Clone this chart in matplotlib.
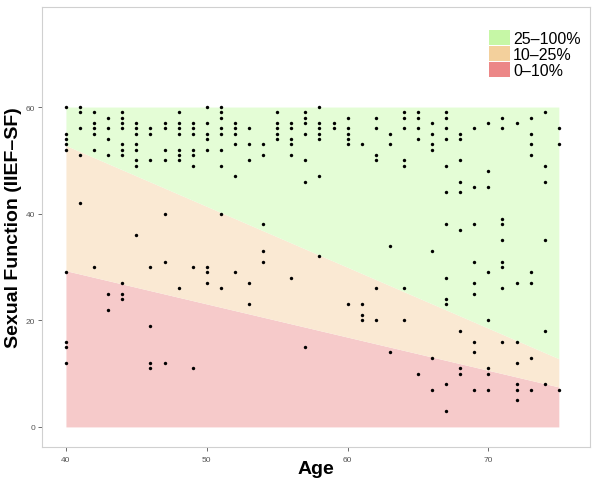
import matplotlib.pyplot as plt
from matplotlib.patches import Patch

plt.rcParams['font.family'] = ['Liberation Sans', 'DejaVu Sans']

# IIEF-SF scores, grouped by age
ages = list(range(40, 76))
scores = [
    [60, 55, 54, 53, 52, 29, 16, 15, 12],      # 40
    [60, 59, 56, 51, 42],                      # 41
    [59, 57, 56, 55, 52, 30],                  # 42
    [58, 56, 54, 51, 25, 22],                  # 43
    [59, 58, 57, 56, 53, 52, 51, 27, 25, 24],  # 44
    [57, 56, 55, 53, 52, 50, 49, 36],          # 45
    [56, 55, 50, 30, 19, 12, 11],              # 46
    [57, 56, 52, 50, 40, 31, 12],              # 47
    [59, 57, 56, 55, 52, 51, 50, 26],          # 48
    [57, 56, 55, 52, 51, 49, 30, 11],          # 49
    [60, 57, 55, 54, 52, 30, 29, 27],          # 50
    [60, 59, 58, 56, 55, 52, 49, 40, 26],      # 51
    [57, 56, 55, 53, 47, 29],                  # 52
    [56, 53, 50, 27, 23],                      # 53
    [53, 51, 38, 33, 31],                      # 54
    [59, 57, 56, 55, 54],                      # 55
    [57, 56, 54, 53, 51, 28],                  # 56
    [59, 58, 57, 55, 50, 46, 15],              # 57
    [60, 57, 56, 55, 54, 47, 32],              # 58
    [57, 56],                                  # 59
    [58, 56, 55, 54, 53, 23],                  # 60
    [53, 23, 21, 20],                          # 61
    [58, 56, 51, 50, 26, 20],                  # 62
    [55, 53, 34, 14],                          # 63
    [59, 58, 56, 50, 49, 26, 20],              # 64
    [59, 58, 56, 54, 10],                      # 65
    [57, 55, 53, 52, 33, 13, 7],               # 66
    [59, 58, 56, 54, 49, 44, 38, 28, 24, 23, 8, 3],  # 67
    [55, 54, 50, 46, 44, 37, 18, 11, 10],      # 68
    [56, 45, 38, 31, 27, 25, 16, 14, 7],       # 69
    [57, 48, 45, 29, 20, 11, 10, 7],           # 70
    [58, 56, 39, 38, 35, 31, 30, 26, 16],      # 71
    [57, 27, 16, 12, 8, 7, 5],                 # 72
    [58, 55, 53, 51, 29, 27, 13, 7],           # 73
    [59, 49, 46, 35, 18, 8],                   # 74
    [56, 53, 7],                               # 75
]

# percentile band boundaries at age 40 and 75
band_x = [40, 75]
p10 = [29.3, 7.5]
p25 = [52.8, 12.8]
top = [60, 60]

labels = ['25\u2013100%', '10\u201325%', '0\u201310%']
fill_colors = ['#e4fdd6', '#fae9d3', '#f6caca']
key_colors = ['#c6f7a6', '#f3d09c', '#ec8787']

x = [a for a, s in zip(ages, scores) for _ in s]
y = [v for s in scores for v in s]

fig = plt.figure(figsize=(6, 4.89), dpi=100)
ax = fig.add_axes([0.07, 0.084, 0.913, 0.9])

ax.fill_between(band_x, 0, p10, color=fill_colors[2], lw=0)
ax.fill_between(band_x, p10, p25, color=fill_colors[1], lw=0)
ax.fill_between(band_x, p25, top, color=fill_colors[0], lw=0)

ax.scatter(x, y, s=6, color='black', zorder=3, linewidths=0)

ax.set_xlim(38.3, 77.2)
ax.set_ylim(-3.75, 78.8)
ax.set_xticks([40, 50, 60, 70])
ax.set_yticks([0, 20, 40, 60])
ax.tick_params(labelsize=6, colors='#555555', length=3, width=0.6)
ax.tick_params(axis='y', pad=2)
for sp in ax.spines.values():
    sp.set_color('#d0d0d0')
    sp.set_linewidth(0.8)

ax.set_xlabel('Age', fontsize=14, fontweight='bold')
ax.set_ylabel('Sexual Function (IIEF\u2013SF)', fontsize=14, fontweight='bold')
ax.xaxis.set_label_coords(0.5, -0.03)
ax.yaxis.set_label_coords(-0.036, 0.5)

handles = [Patch(facecolor=c, edgecolor='none') for c in key_colors]
fig.legend(handles, labels, loc='upper left', bbox_to_anchor=(0.815, 0.937),
           frameon=False, fontsize=11.5, handlelength=1.3, handleheight=1.1,
           labelspacing=0.0, handletextpad=0.2, borderpad=0, borderaxespad=0)

fig.savefig('out.png', dpi=100)
